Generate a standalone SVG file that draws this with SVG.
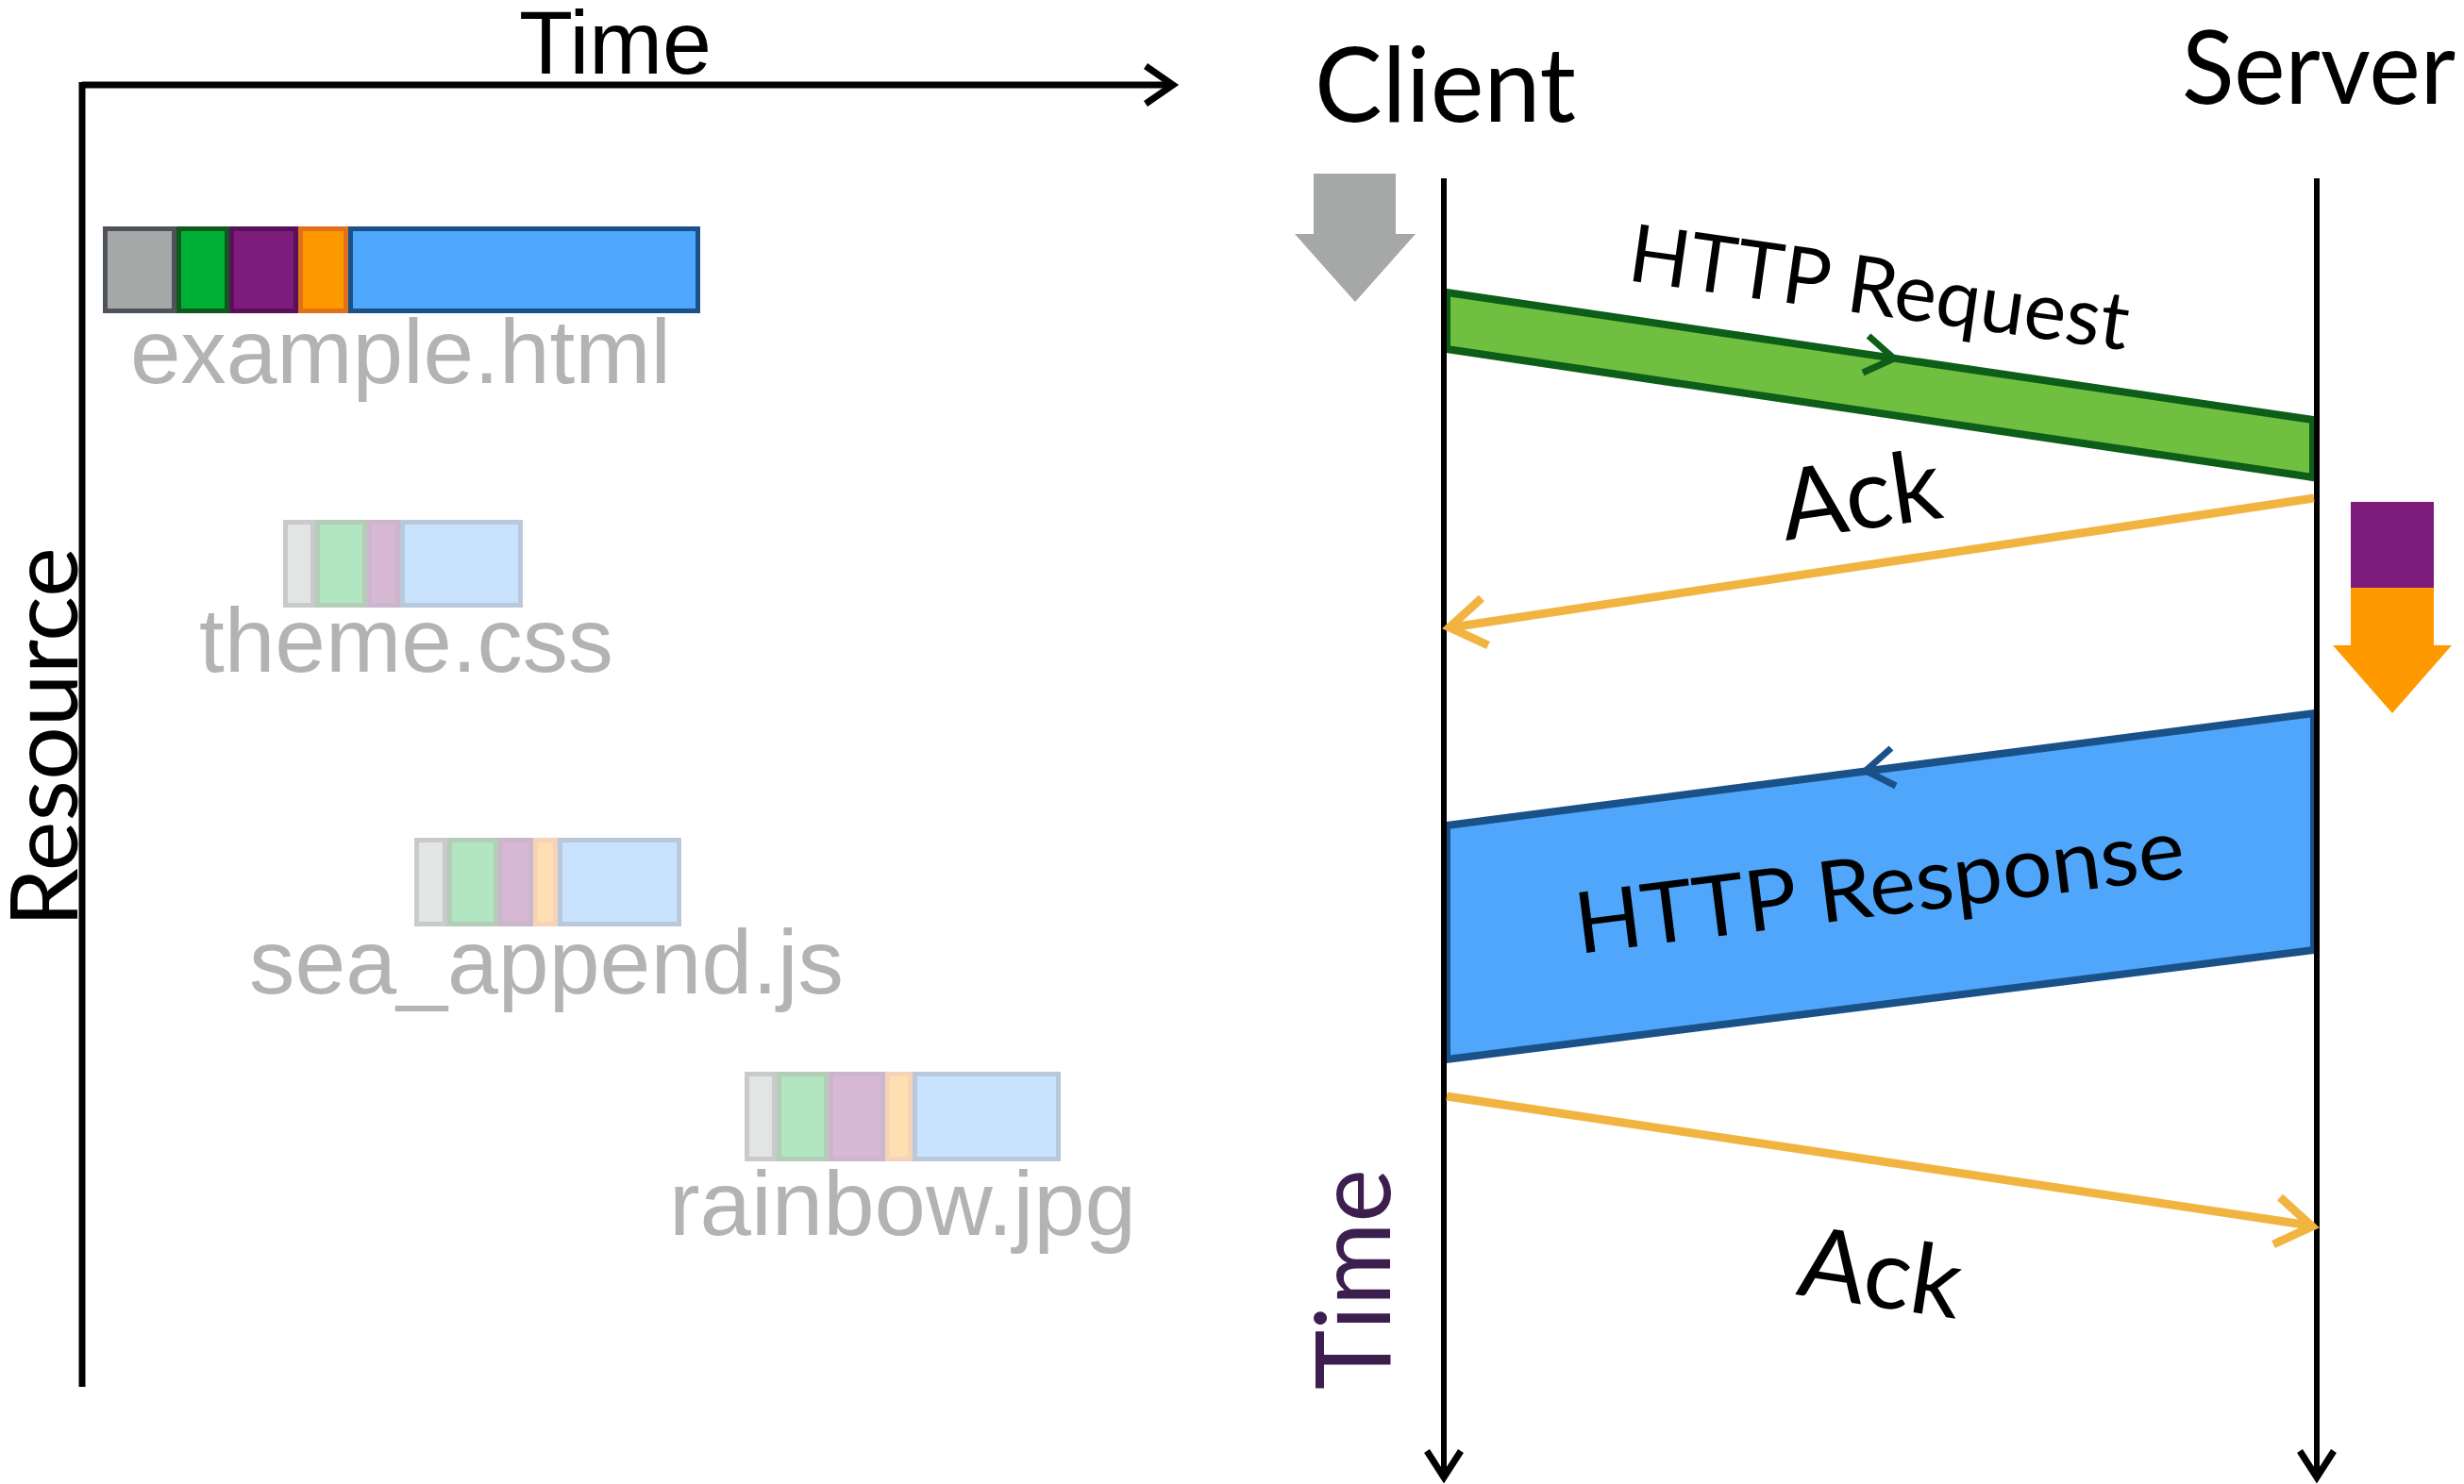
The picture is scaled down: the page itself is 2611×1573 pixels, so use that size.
<svg xmlns="http://www.w3.org/2000/svg" width="2611" height="1573" viewBox="0 0 2611 1573">
  <style>
    .axis { stroke: #000; stroke-width: 7; fill: none; }
    .life { stroke: #000; stroke-width: 6; fill: none; }
    .head { stroke: #000; stroke-width: 7; fill: none; stroke-linejoin: miter; }
    .fname { font-family: "Liberation Sans", Arial, sans-serif; font-size: 96px; fill: #B3B3B3; }
    .lbl { font-family: "Lato", "Noto Sans", sans-serif; fill: #000; }
    .seg { stroke-width: 5; }
    .gray { fill: #A5A8A7; stroke: #4F5359; }
    .green { fill: #00B034; stroke: #0D5A1C; }
    .purple { fill: #7E1C7B; stroke: #5A1058; }
    .orange { fill: #FF9900; stroke: #E0701A; }
    .blue { fill: #4EA6FD; stroke: #1B5189; }
    .faded { opacity: 0.3; }
    .ack { stroke: #F2B441; stroke-width: 9; fill: none; }
  </style>

  <!-- Left chart: axes -->
  <g id="resource-axes">
    <line class="axis" x1="87" y1="90" x2="1243" y2="90"/>
    <polyline class="axis" points="1214,70 1243,90 1214,110"/>
    <line class="axis" x1="87" y1="87" x2="87" y2="1470"/>
    <text x="550" y="78" font-family="Liberation Sans, Arial, sans-serif" font-size="94" textLength="204" lengthAdjust="spacingAndGlyphs">Time</text>
    <text transform="translate(82,983) rotate(-90)" class="lbl" font-size="98" textLength="403" lengthAdjust="spacingAndGlyphs">Resource</text>
  </g>

  <!-- Resource bars -->
  <g id="res-example-html">
    <rect class="seg gray" x="111.5" y="242.5" width="73" height="87"/>
    <rect class="seg green" x="189.5" y="242.5" width="51" height="87"/>
    <rect class="seg purple" x="245.5" y="242.5" width="68" height="87"/>
    <rect class="seg orange" x="318.5" y="242.5" width="48" height="87"/>
    <rect class="seg blue" x="371.5" y="242.5" width="368" height="87"/>
    <text class="fname" x="138" y="406" textLength="573" lengthAdjust="spacingAndGlyphs">example.html</text>
  </g>

  <g id="res-theme-css">
    <g class="faded">
      <rect class="seg gray" x="302.5" y="553.5" width="29" height="88"/>
      <rect class="seg green" x="336.5" y="553.5" width="50" height="88"/>
      <rect class="seg purple" x="391.5" y="553.5" width="30" height="88"/>
      <rect class="seg blue" x="426.5" y="553.5" width="125" height="88"/>
    </g>
    <text class="fname" x="211" y="712" textLength="439" lengthAdjust="spacingAndGlyphs">theme.css</text>
  </g>

  <g id="res-sea-append-js">
    <g class="faded">
      <rect class="seg gray" x="441.5" y="890.5" width="30" height="89"/>
      <rect class="seg green" x="476.5" y="890.5" width="49" height="89"/>
      <rect class="seg purple" x="530.5" y="890.5" width="32" height="89"/>
      <rect class="seg orange" x="567.5" y="890.5" width="21" height="89"/>
      <rect class="seg blue" x="593.5" y="890.5" width="126" height="89"/>
    </g>
    <text class="fname" x="264" y="1053" textLength="630" lengthAdjust="spacingAndGlyphs">sea_append.js</text>
  </g>

  <g id="res-rainbow-jpg">
    <g class="faded">
      <rect class="seg gray" x="791.5" y="1138.5" width="29" height="90"/>
      <rect class="seg green" x="825.5" y="1138.5" width="50" height="90"/>
      <rect class="seg purple" x="880.5" y="1138.5" width="55" height="90"/>
      <rect class="seg orange" x="940.5" y="1138.5" width="24" height="90"/>
      <rect class="seg blue" x="969.5" y="1138.5" width="152" height="90"/>
    </g>
    <text class="fname" x="709" y="1309" textLength="495" lengthAdjust="spacingAndGlyphs">rainbow.jpg</text>
  </g>

  <!-- Right chart: participants -->
  <g id="client">
    <text class="lbl" x="1393" y="129" font-size="110" textLength="277" lengthAdjust="spacingAndGlyphs">Client</text>
    <polygon fill="#A5A8A7" points="1392,184 1479,184 1479,248 1500,248 1436,320 1372,248 1392,248"/>
  </g>

  <g id="server">
    <text class="lbl" x="2312" y="110" font-size="108" textLength="290" lengthAdjust="spacingAndGlyphs">Server</text>
    <rect x="2491" y="532" width="88" height="91" fill="#7E1C7B"/>
    <polygon fill="#FF9900" points="2491,623 2579,623 2579,684 2598,684 2535,756 2472,684 2491,684"/>
  </g>

  <g id="time-label">
    <text transform="translate(1473,1473) rotate(-90)" class="lbl" font-size="110" style="fill:#3C1F4E" textLength="234" lengthAdjust="spacingAndGlyphs">Time</text>
  </g>

  <!-- Messages -->
  <g id="http-request">
    <polygon points="1533,310 2451,445 2451,506 1533,370" fill="#70BF41" stroke="#0C5E18" stroke-width="8"/>
    <polyline points="1980,356 2007,380 1974,395" fill="none" stroke="#0C5E18" stroke-width="7"/>
    <text class="lbl" transform="translate(1723,297) rotate(8)" font-size="85" textLength="534" lengthAdjust="spacingAndGlyphs">HTTP Request</text>
  </g>

  <g id="http-response">
    <polygon points="1533,875 2452,756 2452,1007 1533,1123" fill="#4FA6FA" stroke="#1A5189" stroke-width="8"/>
    <polyline points="2004,793 1977,817 2009,833" fill="none" stroke="#1A5189" stroke-width="7"/>
    <text class="lbl" transform="translate(1673,1011) rotate(-7.2)" font-size="90" textLength="650" lengthAdjust="spacingAndGlyphs">HTTP Response</text>
  </g>

  <!-- Connectors: lifelines and acknowledgements -->
  <g id="connectors">
    <line class="life" x1="1530" y1="189" x2="1530" y2="1566"/>
    <polyline class="head" points="1512,1538 1530,1566 1548,1538"/>
    <line class="life" x1="2455" y1="189" x2="2455" y2="1566"/>
    <polyline class="head" points="2437,1538 2455,1566 2473,1538"/>

    <line class="ack" x1="2452" y1="528" x2="1538" y2="665"/>
    <polyline class="ack" points="1570,634 1536,665 1577,684"/>

    <line class="ack" x1="1533" y1="1162" x2="2448" y2="1299"/>
    <polyline class="ack" points="2416,1269 2450,1300 2409,1319"/>
  </g>

  <g id="ack-labels">
    <text class="lbl" transform="translate(1892,573) rotate(-8.3)" font-size="104" textLength="171" lengthAdjust="spacingAndGlyphs">Ack</text>
    <text class="lbl" transform="translate(1902,1372) rotate(8.6)" font-size="104" textLength="173" lengthAdjust="spacingAndGlyphs">Ack</text>
  </g>
</svg>
